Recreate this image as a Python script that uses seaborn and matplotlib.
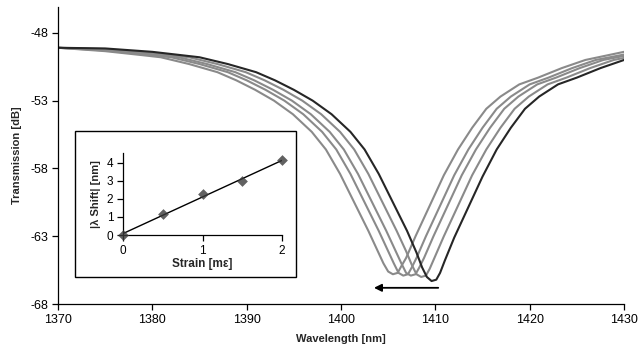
import numpy as np
import pandas as pd
import matplotlib
matplotlib.use("Agg")
import matplotlib.pyplot as plt
from matplotlib.patches import Rectangle
import seaborn as sns

# ---- data: transmission spectra (five strain levels) ----
wl_0 = [1370, 1375, 1380, 1385, 1388, 1391, 1393, 1395, 1397, 1399, 1401, 1402.5, 1404, 1405.5,
        1407, 1408, 1408.6, 1409.1, 1409.6, 1410.1, 1410.5, 1411, 1412, 1413, 1414, 1415, 1416.5,
        1418, 1419.5, 1421, 1423, 1425, 1427.5, 1430]
db_0 = [-49.1, -49.15, -49.4, -49.8, -50.3, -50.9, -51.5, -52.2, -53.0, -54.0, -55.3, -56.6, -58.4,
        -60.5, -62.6, -64.2, -65.3, -66.0, -66.3, -66.2, -65.7, -64.8, -63.1, -61.6, -60.1, -58.6,
        -56.6, -55.0, -53.6, -52.7, -51.8, -51.3, -50.6, -50.0]

wl_1 = [1370, 1375, 1380, 1383.9, 1386.9, 1389.9, 1391.9, 1393.9, 1395.9, 1397.9, 1399.9, 1401.4,
        1402.9, 1404.4, 1405.9, 1406.9, 1407.5, 1408.0, 1408.5, 1409.0, 1409.4, 1409.9, 1410.9,
        1411.9, 1412.9, 1413.9, 1415.4, 1416.9, 1418.4, 1419.9, 1421.9, 1423.9, 1426.4, 1428.9, 1430]
db_1 = [-49.1, -49.2, -49.5, -49.8, -50.3, -50.9, -51.5, -52.2, -53.0, -54.0, -55.3, -56.6, -58.4,
        -60.5, -62.6, -64.1, -65.1, -65.8, -66.0, -65.9, -65.4, -64.6, -63.0, -61.5, -60.0, -58.5,
        -56.6, -55.0, -53.6, -52.7, -51.8, -51.3, -50.6, -50.0, -49.85]

wl_2 = [1370, 1375, 1380, 1382.8, 1385.8, 1388.8, 1390.8, 1392.8, 1394.8, 1396.8, 1398.8, 1400.3,
        1401.8, 1403.3, 1404.8, 1405.8, 1406.4, 1406.9, 1407.4, 1407.9, 1408.3, 1408.8, 1409.8,
        1410.8, 1411.8, 1412.8, 1414.3, 1415.8, 1417.3, 1418.8, 1420.8, 1422.8, 1425.3, 1427.8, 1430]
db_2 = [-49.1, -49.25, -49.55, -49.8, -50.3, -50.9, -51.5, -52.2, -53.0, -54.0, -55.3, -56.6, -58.4,
        -60.5, -62.6, -64.1, -65.0, -65.7, -65.9, -65.8, -65.3, -64.6, -63.0, -61.5, -60.0, -58.5,
        -56.6, -55.0, -53.6, -52.7, -51.8, -51.3, -50.6, -50.0, -49.7]

wl_3 = [1370, 1375, 1380, 1382, 1385, 1388, 1390, 1392, 1394, 1396, 1398, 1399.5, 1401, 1402.5,
        1404, 1405.0, 1405.6, 1406.1, 1406.6, 1407.1, 1407.5, 1408, 1409, 1410, 1411, 1412, 1413.5,
        1415, 1416.5, 1418, 1420, 1422, 1424.5, 1427, 1430]
db_3 = [-49.1, -49.3, -49.65, -49.8, -50.3, -50.9, -51.5, -52.2, -53.0, -54.0, -55.3, -56.6, -58.4,
        -60.5, -62.6, -64.1, -65.0, -65.7, -65.9, -65.8, -65.3, -64.6, -63.0, -61.5, -60.0, -58.5,
        -56.6, -55.0, -53.6, -52.7, -51.8, -51.3, -50.6, -50.0, -49.6]

wl_4 = [1370, 1375, 1379, 1380.9, 1383.9, 1386.9, 1388.9, 1390.9, 1392.9, 1394.9, 1396.9, 1398.4,
        1399.9, 1401.4, 1402.9, 1403.9, 1404.5, 1405.0, 1405.5, 1406.0, 1406.4, 1406.9, 1407.9,
        1408.9, 1409.9, 1410.9, 1412.4, 1413.9, 1415.4, 1416.9, 1418.9, 1420.9, 1423.4, 1425.9, 1430]
db_4 = [-49.1, -49.35, -49.65, -49.8, -50.3, -50.9, -51.5, -52.2, -53.0, -54.0, -55.3, -56.6, -58.4,
        -60.5, -62.6, -64.1, -65.0, -65.6, -65.8, -65.7, -65.2, -64.6, -63.0, -61.5, -60.0, -58.5,
        -56.6, -55.0, -53.6, -52.7, -51.8, -51.3, -50.6, -50.0, -49.4]

# ---- data: inset (wavelength shift vs strain) ----
strain = [0, 0.5, 1.0, 1.5, 2.0]
shift = [0.0, 1.15, 2.25, 3.0, 4.15]

x_ticks = [1370, 1380, 1390, 1400, 1410, 1420, 1430]
y_ticks = [-68, -63, -58, -53, -48]

sns.set_theme(style="ticks")
plt.rcParams['font.family'] = ['Liberation Sans', 'DejaVu Sans']

fig = plt.figure(figsize=(6.44, 3.54), dpi=100)
ax = fig.add_axes([0.090, 0.141, 0.879, 0.839])

curves = [(wl_4, db_4), (wl_3, db_3), (wl_2, db_2), (wl_1, db_1), (wl_0, db_0)]
colors = ["#8a8a8a", "#8a8a8a", "#8a8a8a", "#8a8a8a", "#262626"]
for (w, d), c in zip(curves, colors):
    sns.lineplot(x=w, y=d, ax=ax, color=c, lw=1.5, sort=False, estimator=None)

ax.set_xlim(1370, 1430)
ax.set_ylim(-68, -46.1)
ax.set_xticks(x_ticks)
ax.set_yticks(y_ticks)
ax.set_xticklabels([str(v) for v in x_ticks])
ax.set_yticklabels([str(v) for v in y_ticks])
ax.tick_params(axis='both', labelsize=9, length=4, width=0.9, colors='black', pad=3)
for s in ['top', 'right']:
    ax.spines[s].set_visible(False)
for s in ['left', 'bottom']:
    ax.spines[s].set_linewidth(0.9)
    ax.spines[s].set_color('black')
ax.set_xlabel("Wavelength [nm]", fontsize=8, fontweight='bold', labelpad=6)
ax.set_ylabel("Transmission [dB]", fontsize=8, fontweight='bold', labelpad=6)

# arrow indicating shift direction
arrow_tail = (1410.6, -66.8)
arrow_head = (1403.2, -66.8)
ax.annotate('', xy=arrow_head, xytext=arrow_tail,
            arrowprops=dict(arrowstyle='-|>', color='black', lw=1.3, mutation_scale=11))

# inset frame
rect = Rectangle((75 / 644, 1 - 277 / 354), (296 - 75) / 644, (277 - 131) / 354,
                 transform=fig.transFigure, facecolor='white', edgecolor='black',
                 lw=1.0, zorder=10, clip_on=False)
ax.add_patch(rect)

ins = fig.add_axes([123 / 644, 1 - 235 / 354, (282 - 123) / 644, (235 - 153) / 354])
ins.set_zorder(20)
ins.patch.set_alpha(0)
sns.regplot(x=strain, y=shift, ax=ins, ci=None, truncate=True,
            marker='D', scatter_kws=dict(s=30, color='#3a3a3a', zorder=3, linewidths=0),
            line_kws=dict(color='black', lw=1.0))
ins.set_xlim(0, 2)
ins.set_ylim(0, 4.55)
ins.set_xticks([0, 1, 2])
ins.set_yticks([0, 1, 2, 3, 4])
ins.set_xticklabels(['0', '1', '2'])
ins.set_yticklabels(['0', '1', '2', '3', '4'])
ins.tick_params(axis='both', labelsize=8.5, length=4, width=0.9, colors='black', pad=3)
for s in ['top', 'right']:
    ins.spines[s].set_visible(False)
for s in ['left', 'bottom']:
    ins.spines[s].set_linewidth(0.9)
    ins.spines[s].set_color('black')
for coll in ins.collections:
    coll.set_clip_on(False)
ins.set_xlabel("Strain [mε]", fontsize=8.5, fontweight='bold', labelpad=1)
ins.set_ylabel("|λ Shift| [nm]", fontsize=8, fontweight='bold', labelpad=4)

fig.savefig("out.png", dpi=100)
